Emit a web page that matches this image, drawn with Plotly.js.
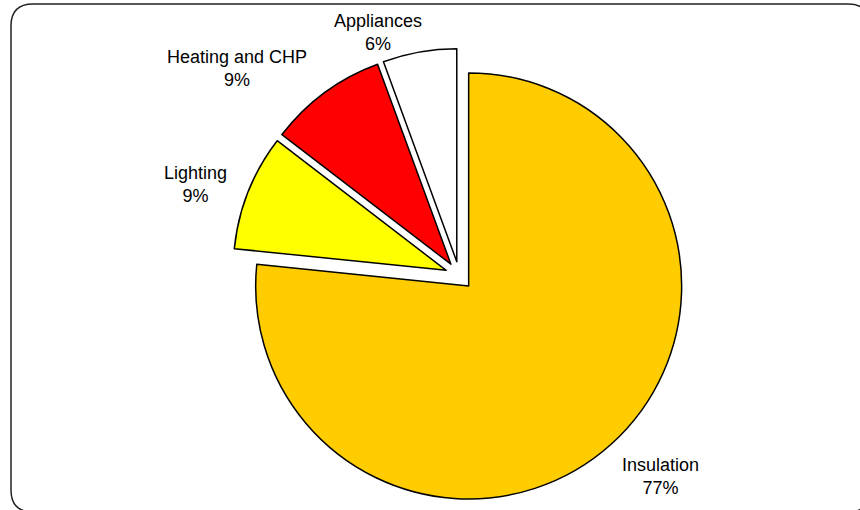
<!DOCTYPE html>
<html>
<head>
<meta charset="utf-8">
<script src="https://cdn.plot.ly/plotly-3.0.1.min.js"></script>
<style>html,body{margin:0;padding:0;background:#fff;}#chart{width:860px;height:510px;}</style>
</head>
<body>
<div id="chart"></div>
<script>
var categories = ["Insulation", "Lighting", "Heating and CHP", "Appliances"];
var shares = [76.7, 8.8, 9.0, 5.6];
var sliceColors = ["#FFCC00", "#FFFF00", "#FF0000", "#FFFFFF"];

var W = 860, H = 510;
// label anchor positions in pixels (layout only, not data)
var labelPos = [[660, 476], [195, 184], [237, 69], [378, 33]];

var total = shares.reduce(function(a, b){ return a + b; }, 0);

var trace = {
  type: "pie",
  labels: categories,
  values: shares,
  sort: false,
  direction: "clockwise",
  rotation: 0,
  pull: [0.066, 0.066, 0.066, 0.066],
  marker: {colors: sliceColors, line: {color: "#000000", width: 1.5}},
  textinfo: "none",
  hoverinfo: "label+percent",
  showlegend: false,
  automargin: false,
  domain: {x: [0.27, 0.798], y: [0.0145, 0.905]}
};

var annotations = categories.map(function(c, i){
  return {
    xref: "paper", yref: "paper",
    x: labelPos[i][0] / W, y: 1 - labelPos[i][1] / H,
    xanchor: "center", yanchor: "middle",
    showarrow: false,
    align: "center",
    text: c + "<br>" + Math.round(shares[i] / total * 100) + "%",
    font: {family: "Liberation Sans, Arial, sans-serif", size: 18, color: "#000000"}
  };
});

function roundedRect(x0, y0, x1, y1, r){
  function px(x){ return (x / W).toFixed(5); }
  function py(y){ return (1 - y / H).toFixed(5); }
  return "M " + px(x0 + r) + "," + py(y0) +
    " L " + px(x1 - r) + "," + py(y0) +
    " Q " + px(x1) + "," + py(y0) + " " + px(x1) + "," + py(y0 + r) +
    " L " + px(x1) + "," + py(y1 - r) +
    " Q " + px(x1) + "," + py(y1) + " " + px(x1 - r) + "," + py(y1) +
    " L " + px(x0 + r) + "," + py(y1) +
    " Q " + px(x0) + "," + py(y1) + " " + px(x0) + "," + py(y1 - r) +
    " L " + px(x0) + "," + py(y0 + r) +
    " Q " + px(x0) + "," + py(y0) + " " + px(x0 + r) + "," + py(y0) + " Z";
}

var layout = {
  width: W,
  height: H,
  margin: {l: 0, r: 0, t: 0, b: 0},
  paper_bgcolor: "#FFFFFF",
  showlegend: false,
  font: {family: "Liberation Sans, Arial, sans-serif", size: 18, color: "#000000"},
  annotations: annotations,
  shapes: [{
    type: "path",
    xref: "paper", yref: "paper",
    path: roundedRect(11, 4, 870, 512, 22),
    line: {color: "#222222", width: 1.5},
    fillcolor: "rgba(0,0,0,0)",
    layer: "below"
  }]
};

Plotly.newPlot("chart", [trace], layout, {displayModeBar: false, staticPlot: true});
</script>
</body>
</html>
